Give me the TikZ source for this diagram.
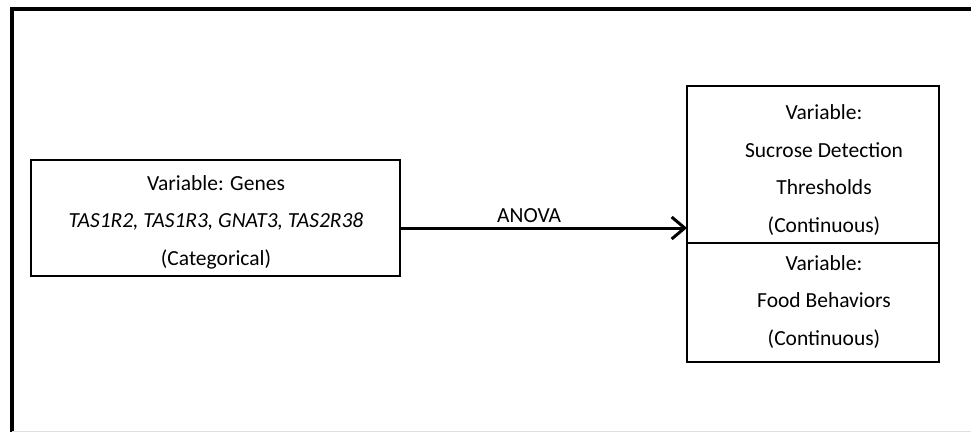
\documentclass[tikz,border=0pt]{standalone}
\usepackage{fontspec}
\setmainfont{Carlito}
\usetikzlibrary{arrows.meta}
\begin{document}
\begin{tikzpicture}[x=1pt,y=-1pt,
  box/.style={draw=black,line width=2.8pt,inner sep=0pt,outer sep=0pt},
  lbl/.style={align=center,font=\fontsize{21.5}{37.5}\selectfont,inner sep=0pt},
  arr/.style={line width=3pt,-{Straight Barb[length=13pt,width=22pt,line width=3pt]}},
  frame/.style={line width=3.2pt}]
\useasboundingbox (0,0) rectangle (971,432);
% outer frame (clipped at right and bottom)
\coordinate (ftl) at (12,9);
\coordinate (ftr) at (971,9);
\coordinate (fbl) at (12,432);
\draw[frame] (ftr) -- (ftl) -- (fbl);
\draw[gray!25,line width=1pt] (12,431) -- (971,431);
% left box
\node[box,minimum width=369pt,minimum height=116pt] (genes) at (215.5,218) {};
\node[lbl] (genestxt) at (216,222) {Variable: Genes\\\textit{TAS1R2, TAS1R3, GNAT3, TAS2R38}\\(Categorical)};
% right boxes
\node[box,minimum width=252pt,minimum height=157pt] (sdt) at (813,164.5) {};
\node[box,minimum width=252pt,minimum height=119pt,anchor=north] (food) at (sdt.south) {};
\node[lbl] (sdttxt) at (824,170) {Variable:\\Sucrose Detection\\Thresholds\\(Continuous)};
\node[lbl] (foodtxt) at (824,302) {Variable:\\Food Behaviors\\(Continuous)};
% arrow
\draw[arr] ([yshift=-10pt]genes.east) -- ([yshift=-10pt]genes.east -| sdt.west)
  node[pos=0.45,above=4pt,font=\fontsize{21.5}{25}\selectfont,inner sep=0pt] (anova) {ANOVA};
\end{tikzpicture}
\end{document}
